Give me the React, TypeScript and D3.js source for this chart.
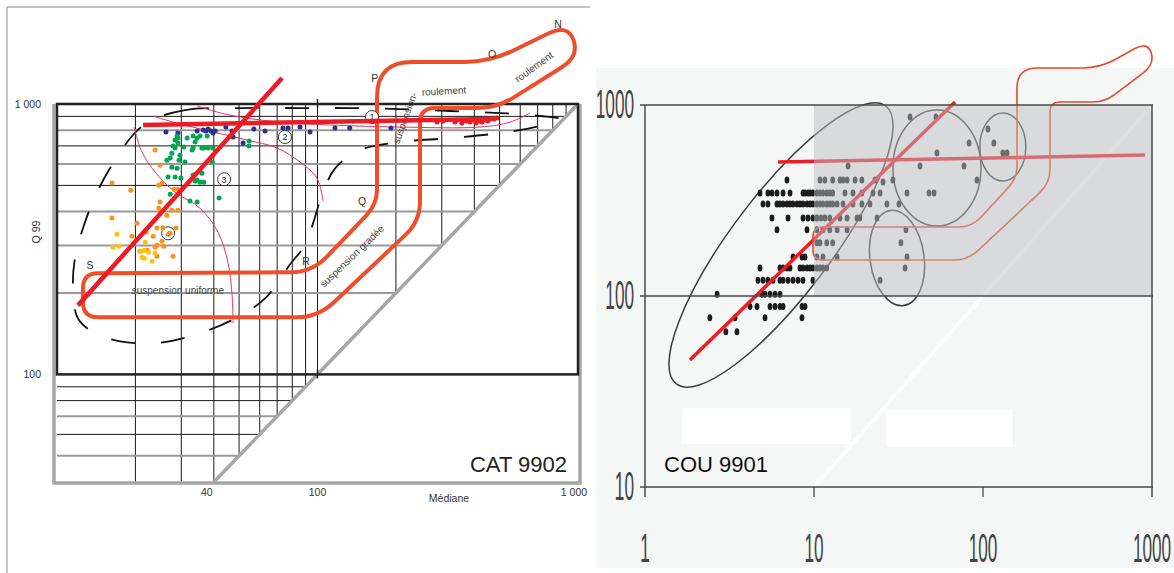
import React from 'react';
import * as d3 from 'd3';

type P = [number, number];

// ================= CAT 9902 (left, CM diagram) =================
const catXTicks = [40, 100, 1000];
const catXTickLabels = ['40', '100', '1 000'];
const catYTicks = [1000, 100];
const catYTickLabels = ['1 000', '100'];
const catGridM = [20, 30, 40, 50, 60, 70, 80, 90, 100, 200, 300, 400, 500, 600, 700, 800, 900];
const catGridC = [50, 60, 70, 80, 90, 200, 300, 400, 500, 600, 700, 800, 900];
const catGrayC = [50, 70, 200, 300, 400, 600, 800];

const catBlue: P[] = [
  [26.2, 788], [29.1, 781], [34.5, 794], [36.4, 801], [37.3, 794], [38.0, 808], [39.0, 794],
  [39.7, 781], [40.5, 794], [44.5, 822], [47.0, 794], [47.4, 755], [51.8, 717], [57.0, 808],
  [62.9, 794], [73.7, 815], [77.1, 815], [85.7, 822], [93.6, 788], [116.7, 815], [133, 815], [191.4, 815],
];
const catGreen: P[] = [
  [28.9, 762], [29.1, 748], [28.4, 736], [31.6, 748], [33.3, 762], [34.5, 748], [35.4, 762], [33.9, 723],
  [37.7, 762], [29.1, 717], [27.9, 699], [28.4, 688], [30.7, 693], [33.3, 688], [36.0, 688], [36.6, 688],
  [38.0, 688], [39.7, 688], [27.6, 658], [27.2, 631], [29.65, 647], [33.0, 676], [26.4, 620], [29.4, 620],
  [31.0, 610], [39.4, 610], [27.6, 584], [28.9, 579], [26.7, 537], [28.4, 537], [29.9, 532], [33.3, 546],
  [36.0, 555], [34.5, 523], [35.4, 514], [36.6, 514], [33.9, 519], [27.2, 464], [32.4, 437.5], [34.5, 434],
  [41.9, 449], [54.6, 730], [54.6, 699],
];
const catOrange: P[] = [
  [23.8, 676], [24.85, 594], [16.26, 510], [19.2, 480], [24.6, 501], [25.3, 510], [28.1, 484], [29.1, 484],
  [24.85, 434], [27.6, 405], [29.1, 405], [26.4, 388], [24.6, 412], [16.26, 378.5], [20.3, 362], [19.4, 324],
  [22.0, 335.5], [24.2, 347.5], [25.5, 347.5], [28.6, 347.5], [23.4, 324], [27.2, 332.6], [25.3, 311],
  [24.2, 300.6], [23.8, 295.4], [25.7, 298], [22.2, 288], [20.8, 285.5], [27.9, 273.5], [24.2, 273.5],
];
const catYellow: P[] = [
  [17.0, 330], [16.4, 295.4], [17.3, 298], [21.8, 308], [21.0, 285.5], [21.6, 288], [22.5, 283],
  [23.8, 280.6], [21.2, 271.3], [21.6, 269], [23.2, 262],
];
const catRed: P[] = [
  [287.5, 857], [303, 865], [337, 857], [343, 873], [358, 850], [372, 865], [385, 857], [395, 873],
  [406, 850], [417, 865], [428, 857], [439.5, 873], [451, 865], [459, 880], [476, 880], [488.5, 888],
];
const catTrendDiag: P[] = [[12.04, 180], [73.1, 1248]];
const catTrendFlat: P[] = [[21.4, 836], [459, 880]];

const catPassega: P[] = [
  [12.58, 236.6], [95.3, 238.6], [169.2, 426], [169.2, 1431], [459, 1431], [915, 1979], [1010, 1500],
  [488.5, 966.5], [247.5, 966.5], [247.5, 368.6], [100.4, 162.6], [12.58, 162.6],
];
const catPassegaRadii = [15, 22, 15, 35, 25, 22, 20, 20, 15, 20, 22, 15];

const catEnvelope: P[] = [
  [22.75, 865], [31, 950], [50.4, 966], [85.7, 966], [133, 966], [207, 958], [323, 942], [502, 926],
  [715, 903], [853, 880], [715, 829], [502, 781], [323, 748], [207, 723], [146, 676], [117, 579],
  [104, 460], [97, 372], [89.5, 301], [78.4, 255], [62.9, 191], [48.2, 161], [35.4, 142], [24.85, 131],
  [17.45, 132.5], [14, 142], [12.04, 161], [11.52, 205], [11.72, 269], [12.69, 356], [14.37, 480],
  [16.7, 620], [19.57, 768],
];
const catPinkA: P[] = [[34.5, 983], [44.2, 918], [60.2, 873], [93.6, 843], [207, 822], [420.5, 822], [548, 857], [654, 926]];
const catPinkB: P[] = [[19.75, 822], [21.2, 664], [23.8, 560], [28.4, 472], [35.4, 412], [41.5, 335.5], [45.3, 260], [47.0, 196.2], [47.4, 154.5]];
const catPinkC: P[] = [[23.4, 902.6], [27.9, 857], [39.7, 788], [53.6, 736], [69.9, 688], [85.7, 609.5], [99.5, 532], [105, 437]];

const catLetters: { t: string; m: number; c: number }[] = [
  { t: 'S', m: 13.39, c: 253.3 }, { t: 'R', m: 90.3, c: 262 }, { t: 'Q', m: 148.2, c: 437.5 },
  { t: 'P', m: 166, c: 1245 }, { t: 'O', m: 467.7, c: 1531 }, { t: 'N', m: 838, c: 1979 },
];
const catZones: { t: string; m: number; c: number; rot: number }[] = [
  { t: 'suspension uniforme', m: 29.1, c: 204.6, rot: 0 },
  { t: 'suspension gradée', m: 135.6, c: 273.5, rot: -44 },
  { t: 'roulement', m: 305.9, c: 1117, rot: -3 },
  { t: 'roulement', m: 677.6, c: 1371, rot: -36 },
  { t: 'suspension-', m: 216.6, c: 887.6, rot: -70 },
];
const catCircled: { t: string; m: number; c: number }[] = [
  { t: '1', m: 161.9, c: 895 }, { t: '2', m: 75.0, c: 755 }, { t: '3', m: 43.8, c: 527 }, { t: '4', m: 26.7, c: 332.6 },
];

// ================= COU 9901 (right, scanned CM diagram) =================
const couXTicks = [1, 10, 100, 1000];
const couYTicks = [1000, 100, 10];
const couRows: { c: number; m: number[] }[] = [
  { c: 865, m: [37.0, 52.7] },
  { c: 748, m: [107] },
  { c: 632, m: [82.7, 116] },
  { c: 561, m: [53.4, 131, 138.7] },
  { c: 479, m: [15.9, 42.4, 77.2] },
  { c: 405, m: [6.92, 10.85, 11.6, 12.9, 14.25, 14.85, 15.7, 17.5, 19.2, 22.96, 29.3, 92.1] },
  { c: 395, m: [25.6] },
  { c: 346, m: [4.79, 5.34, 5.64, 6.04, 6.56, 7.21, 8.61, 8.85, 9.21, 9.47, 9.86, 10.4, 10.85, 11.3, 11.9, 12.4, 12.9, 15.25, 17.0, 19.2, 22.35, 24.6, 35.5, 47.9, 51.3] },
  { c: 303, m: [4.99, 5.34, 6.04, 6.29, 6.56, 6.92, 7.21, 7.51, 7.93, 8.26, 8.61, 9.09, 9.47, 9.86, 10.4, 10.85, 11.3, 11.9, 12.4, 12.9, 13.7, 14.85, 17.0, 19.2, 21.45, 27.0, 31.8] },
  { c: 256, m: [5.64, 7.02, 8.61, 9.21, 9.86, 10.4, 11.0, 11.6, 12.4, 14.25, 15.7, 17.96, 18.7, 23.6] },
  { c: 222, m: [6.04, 9.09, 10.4, 11.3, 12.4, 13.7, 15.7, 35.0] },
  { c: 190, m: [10.4, 10.85, 11.9, 12.9, 32.7] },
  { c: 160, m: [7.51, 8.49, 8.85, 10.4, 11.3, 13.7, 35.5] },
  { c: 140, m: [4.79, 6.29, 6.56, 6.92, 7.21, 8.26, 8.61, 9.09, 9.47, 9.86, 10.4, 10.85, 11.3, 11.9, 34.6] },
  { c: 121, m: [4.66, 4.99, 5.34, 5.72, 6.29, 6.56, 7.02, 7.51, 8.04, 8.61, 9.86, 24.6] },
  { c: 102, m: [2.67, 4.92, 5.13, 5.49, 5.88, 6.29] },
  { c: 88, m: [4.18, 4.6, 5.49, 5.88, 6.29, 6.56, 8.49, 8.85] },
  { c: 77, m: [2.42, 3.41, 5.13, 8.49] },
  { c: 65, m: [3.01, 3.5] },
];
const couTrendDiag: P[] = [[1.846, 46.2], [68.3, 1037]];
const couTrendFlat: P[] = [[6.12, 503], [909, 547]];
const couPassega: P[] = [
  [9.86, 229.7], [86.1, 229.7], [158.9, 414.7], [158.9, 1562], [492, 1562], [940, 2150], [1040, 1640],
  [527, 1037], [249, 1037], [249, 390.5], [81.5, 154.3], [9.86, 154.3],
];
const couPassegaRadii = [10, 14, 12, 20, 18, 15, 15, 12, 10, 14, 14, 10];
const couEllipses: { m: number; c: number; rx: number; ry: number; rot: number }[] = [
  { m: 6.38, c: 185, rx: 174, ry: 50, rot: -53 },
  { m: 53.4, c: 468, rx: 44, ry: 58, rot: 0 },
  { m: 131, c: 603, rx: 23, ry: 34, rot: 0 },
  { m: 31.0, c: 158, rx: 27, ry: 48, rot: -8 },
];
const couMasks: { m0: number; m1: number; c0: number; c1: number }[] = [
  { m0: 1.655, m1: 16.6, c0: 16.8, c1: 25.9 },
  { m0: 26.7, m1: 150, c0: 16.2, c1: 25.3 },
];

function roundedPath(pts: P[], radii: number[]): string {
  const n = pts.length;
  let d = '';
  for (let i = 0; i < n; i++) {
    const p0 = pts[(i - 1 + n) % n];
    const p1 = pts[i];
    const p2 = pts[(i + 1) % n];
    const v1 = [p0[0] - p1[0], p0[1] - p1[1]];
    const v2 = [p2[0] - p1[0], p2[1] - p1[1]];
    const l1 = Math.hypot(v1[0], v1[1]);
    const l2 = Math.hypot(v2[0], v2[1]);
    const r1 = Math.min(radii[i], l1 / 2);
    const r2 = Math.min(radii[i], l2 / 2);
    const a = [p1[0] + (v1[0] / l1) * r1, p1[1] + (v1[1] / l1) * r1];
    const b = [p1[0] + (v2[0] / l2) * r2, p1[1] + (v2[1] / l2) * r2];
    d += `${i === 0 ? 'M' : 'L'}${a[0]},${a[1]}Q${p1[0]},${p1[1]} ${b[0]},${b[1]}`;
  }
  return d + 'Z';
}

const SANS = 'Liberation Sans, Arial, sans-serif';

export default function App() {
  const xL = d3.scaleLog().domain([10, 1000]).range([57, 578]);
  const yL = d3.scaleLog().domain([40, 1000]).range([482, 104]);
  const xR = d3.scaleLog().domain([1, 1000]).range([645, 1152]);
  const yR = d3.scaleLog().domain([10, 1000]).range([487, 105]);
  const pL = (d: P): P => [xL(d[0]), yL(d[1])];
  const pR = (d: P): P => [xR(d[0]), yR(d[1])];
  const lineL = d3.line<P>().x((d) => xL(d[0])).y((d) => yL(d[1]));
  const lineR = d3.line<P>().x((d) => xR(d[0])).y((d) => yR(d[1]));
  const envLine = d3.line<P>().x((d) => xL(d[0])).y((d) => yL(d[1])).curve(d3.curveCatmullRomClosed.alpha(0.5));
  const pinkLine = d3.line<P>().x((d) => xL(d[0])).y((d) => yL(d[1])).curve(d3.curveCatmullRom.alpha(0.5));

  const topL = yL(1000);
  const botL = yL(40);
  const leftL = xL(10);
  const rightL = xL(1000);

  const dotGroups: { pts: P[]; color: string }[] = [
    { pts: catBlue, color: '#2e3192' },
    { pts: catGreen, color: '#00a651' },
    { pts: catOrange, color: '#f7941d' },
    { pts: catYellow, color: '#ffc20e' },
    { pts: catRed, color: '#ed1c24' },
  ];

  const couDots: P[] = [];
  couRows.forEach((r) => r.m.forEach((m) => couDots.push([m, r.c])));

  return (
    <svg width={1174} height={573} style={{ position: 'absolute', left: 0, top: 0, background: '#fff' }} fontFamily={SANS}>
      {/* ---------- LEFT PANEL ---------- */}
      <line x1={7} y1={7} x2={590} y2={7} stroke="#8c8c8c" strokeWidth={1} />
      <line x1={7} y1={7} x2={7} y2={573} stroke="#8c8c8c" strokeWidth={1} />

      {/* grid */}
      {catGridM.map((m) => (
        <line key={'gm' + m} x1={xL(m)} x2={xL(m)} y1={topL} y2={yL(Math.max(m, 40))} stroke="#1a1a1a" strokeWidth={1} />
      ))}
      {catGridC.map((c) => {
        const gray = catGrayC.includes(c);
        return (
          <line key={'gc' + c} x1={leftL} x2={xL(c)} y1={yL(c)} y2={yL(c)}
            stroke={gray ? '#9a9a9a' : '#1a1a1a'} strokeWidth={gray ? 2 : 1} />
        );
      })}
      {/* gray outer frame and C = M line */}
      <polyline points={`54,${topL} 54,${botL + 1} ${rightL + 2},${botL + 1} ${rightL + 2},${topL}`} fill="none" stroke="#a6a6a6" strokeWidth={3.5} />
      <line x1={xL(40)} y1={yL(40)} x2={xL(1000)} y2={yL(1000)} stroke="#a6a6a6" strokeWidth={3.5} />
      {/* black frame */}
      <rect x={leftL} y={topL} width={rightL - leftL} height={yL(100) - topL} fill="none" stroke="#222" strokeWidth={2.5} />
      <line x1={xL(100)} x2={xL(100)} y1={topL - 5} y2={topL + 4} stroke="#222" strokeWidth={1.5} />
      <line x1={xL(100)} x2={xL(100)} y1={yL(100) - 5} y2={yL(100) + 4} stroke="#222" strokeWidth={1.5} />

      {/* dashed envelope */}
      <path d={envLine(catEnvelope) || ''} fill="none" stroke="#111" strokeWidth={1.8} strokeDasharray="24 26" />
      {/* pink boundaries */}
      {[catPinkA, catPinkB, catPinkC].map((c, i) => (
        <path key={'pk' + i} d={pinkLine(c) || ''} fill="none" stroke="#e6326e" strokeWidth={1} />
      ))}
      {/* Passega loop */}
      <path d={roundedPath(catPassega.map(pL), catPassegaRadii)} fill="none" stroke="#ef4e2c" strokeWidth={4} />

      {/* annotation text */}
      {catLetters.map((l, i) => (
        <text key={'lt' + i} x={xL(l.m)} y={yL(l.c) + 4} fontSize={10.5} fill="#333" textAnchor="middle">{l.t}</text>
      ))}
      {catZones.map((z, i) => (
        <text key={'zn' + i} transform={`translate(${xL(z.m)},${yL(z.c)}) rotate(${z.rot})`} dy={3.5}
          fontSize={10} fill="#444" textAnchor="middle">{z.t}</text>
      ))}
      {catCircled.map((c, i) => (
        <g key={'cc' + i} transform={`translate(${xL(c.m)},${yL(c.c)})`}>
          <circle r={6.5} fill="#fff" stroke="#222" strokeWidth={0.9} />
          <text y={3.3} fontSize={9} textAnchor="middle" fill="#222">{c.t}</text>
        </g>
      ))}

      {/* points */}
      {dotGroups.map((g, gi) => g.pts.map((p, i) => (
        <circle key={`d${gi}-${i}`} cx={xL(p[0])} cy={yL(p[1])} r={2.5} fill={g.color} />
      )))}
      {/* red trend lines */}
      <path d={lineL(catTrendDiag) || ''} stroke="#ed1c24" strokeWidth={4.5} fill="none" />
      <path d={lineL(catTrendFlat) || ''} stroke="#ed1c24" strokeWidth={4.5} fill="none" />

      {/* axes text */}
      {catYTicks.map((c, i) => (
        <text key={'yt' + i} x={41} y={yL(c) + 4} fontSize={10.5} fill="#333" textAnchor="end">{catYTickLabels[i]}</text>
      ))}
      {catXTicks.map((m, i) => (
        <text key={'xt' + i} x={xL(m) - (i === 0 ? 7 : i === 2 ? 4 : 0)} y={496} fontSize={10.5} fill="#333" textAnchor="middle">{catXTickLabels[i]}</text>
      ))}
      <text x={449} y={502} fontSize={10.5} fill="#333" textAnchor="middle">Médiane</text>
      <text transform={`translate(40,232) rotate(-90)`} fontSize={10.5} fill="#333" textAnchor="middle">Q 99</text>
      <text x={567} y={472} fontSize={22} fill="#222" textAnchor="end">CAT 9902</text>

      {/* ---------- RIGHT PANEL ---------- */}
      <rect x={596} y={68} width={578} height={500} fill="#f5f6f6" />
      {couMasks.map((r, i) => (
        <rect key={'mk' + i} x={xR(r.m0)} y={yR(r.c1)} width={xR(r.m1) - xR(r.m0)} height={yR(r.c0) - yR(r.c1)} fill="#fff" />
      ))}
      <line x1={xR(10)} y1={yR(10)} x2={xR(1000)} y2={yR(1000)} stroke="#fff" strokeWidth={3.5} />
      {couEllipses.map((e, i) => (
        <ellipse key={'el' + i} rx={e.rx} ry={e.ry} transform={`translate(${xR(e.m)},${yR(e.c)}) rotate(${e.rot})`}
          fill="none" stroke="#3c3c3c" strokeWidth={1.5} />
      ))}
      {couDots.map((d, i) => (
        <ellipse key={'cd' + i} cx={xR(d[0])} cy={yR(d[1])} rx={2.4} ry={3.5} fill="#1c1c1c" />
      ))}
      <path d={lineR(couTrendDiag) || ''} stroke="#ee1c25" strokeWidth={3.5} fill="none" />
      <path d={lineR(couTrendFlat) || ''} stroke="#ee1c25" strokeWidth={3.5} fill="none" />
      <path d={roundedPath(couPassega.map(pR), couPassegaRadii)} fill="none" stroke="#e8482c" strokeWidth={1.6} />
      {/* gray overlay (sand field) */}
      <rect x={xR(10)} y={yR(1000)} width={xR(1000) - xR(10)} height={yR(100) - yR(1000)} fill="#bcbec2" fillOpacity={0.5} />
      {/* frame */}
      {[1000, 100, 10].map((c) => (
        <line key={'fh' + c} x1={640} x2={xR(1000) + 1} y1={yR(c)} y2={yR(c)} stroke="#4a4a4a" strokeWidth={1.6} />
      ))}
      <line x1={xR(1)} x2={xR(1)} y1={yR(1000)} y2={yR(10) + 10} stroke="#4a4a4a" strokeWidth={1.5} />
      <line x1={xR(1000)} x2={xR(1000)} y1={yR(1000)} y2={yR(10) + 10} stroke="#4a4a4a" strokeWidth={1.5} />
      {[10, 100].map((m) => (
        <line key={'tk' + m} x1={xR(m)} x2={xR(m)} y1={yR(10)} y2={yR(10) + 10} stroke="#4a4a4a" strokeWidth={1.3} />
      ))}
      {couYTicks.map((c) => (
        <g key={'cy' + c} transform={`translate(634,${yR(c) + 13}) scale(0.43,1)`}>
          <text fontSize={40} fill="#444" textAnchor="end">{String(c)}</text>
        </g>
      ))}
      {couXTicks.map((m) => (
        <g key={'cx' + m} transform={`translate(${xR(m)},562) scale(0.43,1)`}>
          <text fontSize={40} fill="#444" textAnchor="middle">{String(m)}</text>
        </g>
      ))}
      <text x={664} y={472} fontSize={22} fill="#111">COU 9901</text>
    </svg>
  );
}
